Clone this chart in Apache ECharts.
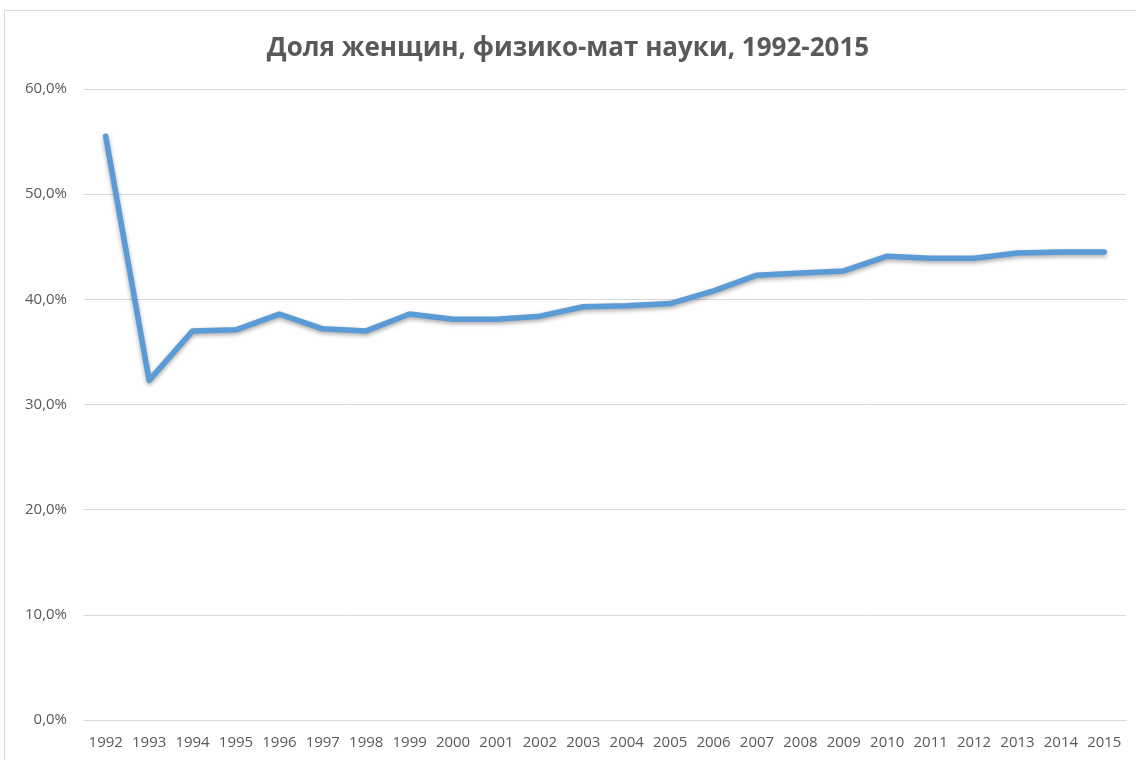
<!DOCTYPE html>
<html>
<head>
<meta charset="utf-8">
<script src="https://cdn.jsdelivr.net/npm/echarts@6/dist/echarts.min.js"></script>
<style>
  html, body { margin: 0; padding: 0; background: #fff; }
  #main { width: 1136px; height: 760px; }
</style>
</head>
<body>
<div id="main"></div>
<script>
// годы и доля женщин (%)
var years = ['1992', '1993', '1994', '1995', '1996', '1997', '1998', '1999', '2000', '2001', '2002', '2003',
  '2004', '2005', '2006', '2007', '2008', '2009', '2010', '2011', '2012', '2013', '2014', '2015'];
var share = [55.5, 32.3, 37.0, 37.1, 38.6, 37.2, 37.0, 38.6, 38.1, 38.1, 38.4, 39.3,
  39.4, 39.6, 40.8, 42.3, 42.5, 42.7, 44.1, 43.9, 43.9, 44.4, 44.5, 44.5];
var titleText = 'Доля женщин, физико-мат науки, 1992-2015';

var chart = echarts.init(document.getElementById('main'));

chart.setOption({
  animation: false,
  backgroundColor: '#ffffff',
  title: {
    text: titleText,
    left: 'center',
    top: 31,
    textStyle: {fontFamily: 'Open Sans', fontSize: 26, fontWeight: 'bold', color: '#595959'}
  },
  graphic: [{
    type: 'rect',
    shape: {x: 4.5, y: 10.5, width: 1140, height: 760},
    style: {fill: 'none', stroke: '#d9d9d9', lineWidth: 1},
    silent: true
  }],
  grid: {left: 84, right: 10, top: 89, bottom: 40},
  xAxis: {
    type: 'category',
    data: years,
    boundaryGap: true,
    axisLine: {lineStyle: {color: '#d9d9d9', width: 1}},
    axisTick: {show: false},
    axisLabel: {interval: 0, margin: 15, fontFamily: 'Open Sans', fontSize: 15, color: '#595959'}
  },
  yAxis: {
    type: 'value',
    min: 0,
    max: 60,
    interval: 10,
    axisLine: {show: false},
    axisTick: {show: false},
    splitLine: {lineStyle: {color: '#d9d9d9', width: 1}},
    axisLabel: {
      margin: 17,
      fontFamily: 'Open Sans',
      fontSize: 15,
      color: '#595959',
      formatter: function (v) { return v.toFixed(1).replace('.', ',') + '%'; }
    }
  },
  series: [{
    type: 'line',
    data: share,
    symbol: 'none',
    smooth: false,
    lineStyle: {
      color: '#5b9bd5',
      width: 5.5,
      cap: 'round',
      join: 'round',
      shadowColor: 'rgba(0,0,0,0.35)',
      shadowBlur: 4,
      shadowOffsetY: 2
    }
  }]
});
</script>
</body>
</html>
